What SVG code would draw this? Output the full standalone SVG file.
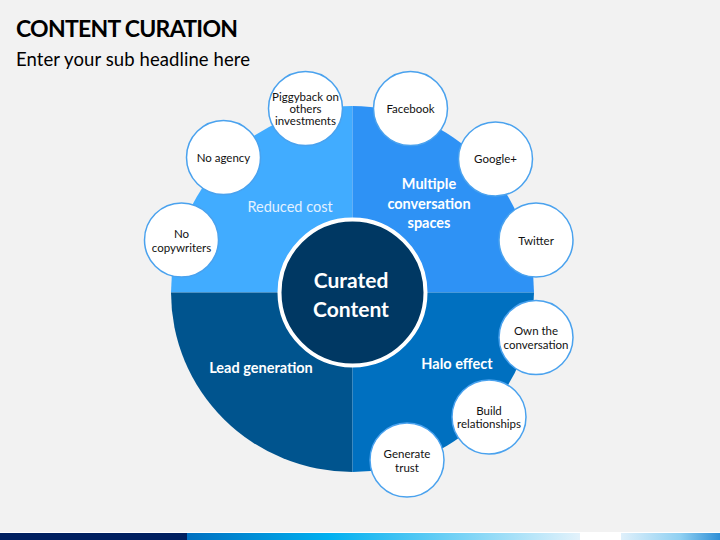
<svg xmlns="http://www.w3.org/2000/svg" width="720" height="540" viewBox="0 0 720 540">
<defs>
<style>
.t{font-family:Lato,"Open Sans","Liberation Sans",sans-serif;}
.leaf circle{fill:#ffffff;stroke:#4aa2ee;stroke-width:1.5;}
.leaf text{font-family:Lato,"Open Sans","Liberation Sans",sans-serif;font-size:11.5px;fill:#111111;text-anchor:middle;}
.ql{font-family:Lato,"Open Sans","Liberation Sans",sans-serif;font-size:14.5px;font-weight:bold;fill:#ffffff;text-anchor:middle;}
</style>
<linearGradient id="bar1" x1="0" y1="0" x2="1" y2="0">
<stop offset="0" stop-color="#0070c0"/>
<stop offset="0.36" stop-color="#00b0f0"/>
<stop offset="1" stop-color="#e3f2fb"/>
</linearGradient>
<linearGradient id="bar2" x1="0" y1="0" x2="1" y2="0">
<stop offset="0" stop-color="#dff0fb"/>
<stop offset="0.6" stop-color="#8fd0f2"/>
<stop offset="1" stop-color="#2f8fd6"/>
</linearGradient>
</defs>
<rect x="0" y="0" width="720" height="540" fill="#f2f2f2"/>
<text class="t" x="16" y="37" font-size="23" font-weight="bold" fill="#000000" textLength="222">CONTENT CURATION</text>
<text class="t" x="16" y="66" font-size="18.5" fill="#000000" textLength="234">Enter your sub headline here</text>

<g id="quadrants">
<path id="q-reduced" d="M352.5,292.5 L171,292.5 A181.5,186.5 0 0 1 352.5,106 Z" fill="#41acff"/>
<path id="q-multiple" d="M352.5,292.5 L352.5,106 A181.5,186.5 0 0 1 534,292.5 Z" fill="#2e92f5"/>
<path id="q-lead" d="M352.5,292.5 L352.5,472 A181.5,179.5 0 0 1 171,292.5 Z" fill="#00548e"/>
<path id="q-halo" d="M352.5,292.5 L534,292.5 A181.5,179.5 0 0 1 352.5,472 Z" fill="#0070c0"/>
</g>
<text class="t" x="290" y="212" font-size="14.5" fill="#e3f1ff" text-anchor="middle">Reduced cost</text>
<text class="ql" x="429" y="189">Multiple</text>
<text class="ql" x="429" y="209">conversation</text>
<text class="ql" x="429" y="228">spaces</text>
<text class="ql" x="261" y="373">Lead generation</text>
<text class="ql" x="457" y="369">Halo effect</text>

<g id="center">
<circle cx="352.5" cy="292.5" r="73" fill="#003863" stroke="#ffffff" stroke-width="4"/>
<text class="t" x="351" y="288" font-size="21" font-weight="bold" fill="#ffffff" text-anchor="middle">Curated</text>
<text class="t" x="351" y="317" font-size="21" font-weight="bold" fill="#ffffff" text-anchor="middle">Content</text>
</g>

<g id="connectors"></g>

<g id="n-piggyback" class="leaf"><circle cx="305.5" cy="108.5" r="37"/><text x="305.5" y="101" font-size="11px">Piggyback on</text><text x="305.5" y="113" font-size="11px">others</text><text x="305.5" y="125" font-size="11px">investments</text></g>
<g id="n-facebook" class="leaf"><circle cx="410.5" cy="108.5" r="37"/><text x="410.5" y="113" font-size="13px">Facebook</text></g>
<g id="n-noagency" class="leaf"><circle cx="223.5" cy="157.5" r="37"/><text x="223.5" y="162">No agency</text></g>
<g id="n-google" class="leaf"><circle cx="495.5" cy="159" r="37"/><text x="495.5" y="163">Google+</text></g>
<g id="n-nocopy" class="leaf"><circle cx="181.5" cy="240" r="37"/><text x="181.5" y="238">No</text><text x="181.5" y="252">copywriters</text></g>
<g id="n-twitter" class="leaf"><circle cx="536" cy="240" r="37"/><text x="536" y="245">Twitter</text></g>
<g id="n-own" class="leaf"><circle cx="536" cy="337.5" r="37"/><text x="536" y="335">Own the</text><text x="536" y="349">conversation</text></g>
<g id="n-build" class="leaf"><circle cx="489" cy="417" r="37"/><text x="489" y="415">Build</text><text x="489" y="428">relationships</text></g>
<g id="n-trust" class="leaf"><circle cx="407" cy="460" r="37"/><text x="407" y="458">Generate</text><text x="407" y="472">trust</text></g>

<rect x="0" y="532" width="720" height="1" fill="#ffffff"/>
<rect x="0" y="533" width="187" height="7" fill="#002060"/>
<rect x="187" y="533" width="393" height="7" fill="url(#bar1)"/>
<rect x="580" y="533" width="41" height="7" fill="#ffffff"/>
<rect x="621" y="533" width="99" height="7" fill="url(#bar2)"/>
</svg>
